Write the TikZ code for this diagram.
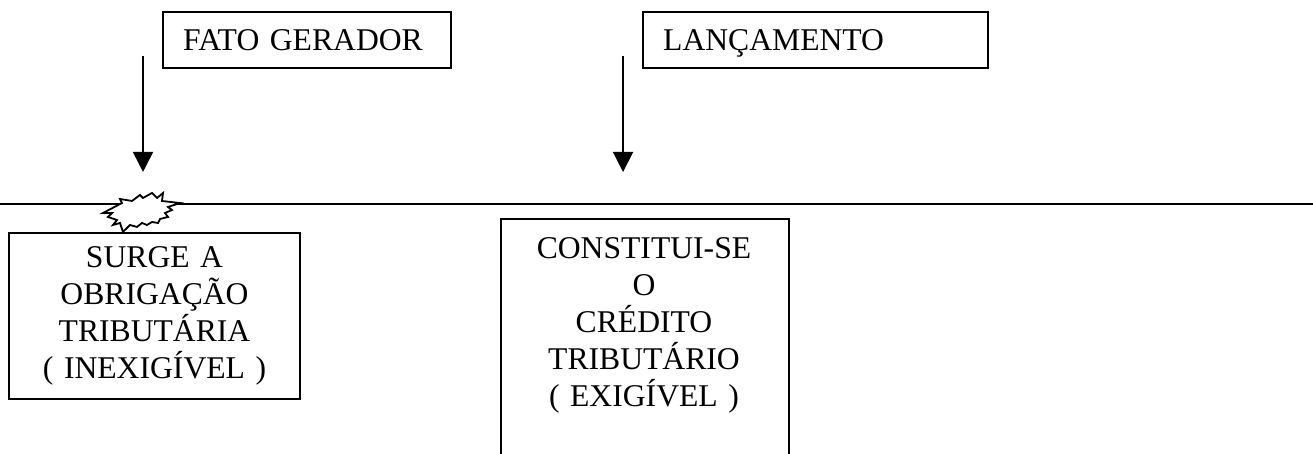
\documentclass[tikz,border=0pt]{standalone}
\usepackage{fontspec}
\setmainfont{Liberation Serif}
\usetikzlibrary{arrows.meta}
\begin{document}
\begin{tikzpicture}[
    linha/.style={line width=0.024cm},
    caixa/.style={draw, line width=0.024cm, inner ysep=0pt},
    seta/.style={line width=0.024cm, -{Triangle[width=0.267cm,length=0.267cm]}}]
                \useasboundingbox (0,0) rectangle (17.500000,6.051000);
                {\fontsize{12pt}{14pt}\selectfont

                % Drawing box FATO GERADOR
                \node (fato) [caixa, anchor=north west, minimum width=3.839000cm, minimum height=0.746000cm,
                    text width=3.299000cm, inner xsep=0.270000cm, text height=8pt, text depth=0pt, align=left]
                    at (2.159000,5.904000) {FATO GERADOR};

                % Drawing box LANCAMENTO
                \node (lancamento) [caixa, anchor=north west, minimum width=4.598000cm, minimum height=0.746000cm,
                    text width=4.058000cm, inner xsep=0.270000cm, text height=8pt, text depth=0pt, align=left]
                    at (8.557000,5.904000) {LANÇAMENTO};

                % Drawing arrows down to the time line
                \coordinate (fatoIni) at (1.906000,5.305000);
                \coordinate (fatoFim) at (1.906000,3.759000);
                \coordinate (lancIni) at (8.304000,5.305000);
                \coordinate (lancFim) at (8.304000,3.759000);
                \draw [seta] (fatoIni) -- (fatoFim);
                \draw [seta] (lancIni) -- (lancFim);

                % Drawing time line
                \coordinate (tempoW) at (0.000000,3.332000);
                \coordinate (tempoE) at (17.500000,3.332000);
                \draw [linha] (tempoW) -- (tempoE);

                % Marking the burst on the line
                \draw [linha, fill=white] (1.373000,3.212000) -- (1.626000,3.345000) -- (1.599000,3.399000)
                    -- (1.759000,3.372000) -- (1.866000,3.452000) -- (1.906000,3.412000) -- (2.026000,3.479000)
                    -- (2.093000,3.412000) -- (2.173000,3.479000) -- (2.159000,3.372000) -- (2.399000,3.345000)
                    -- (2.239000,3.292000) -- (2.292000,3.252000) -- (2.199000,3.212000) -- (2.239000,3.159000)
                    -- (2.133000,3.132000) -- (2.106000,3.079000) -- (2.026000,3.092000) -- (1.959000,3.052000)
                    -- (1.893000,3.079000) -- (1.826000,3.026000) -- (1.733000,3.052000) -- (1.639000,2.959000)
                    -- (1.599000,3.079000) -- (1.506000,3.052000) -- (1.559000,3.119000) -- (1.439000,3.159000)
                    -- (1.493000,3.212000) -- cycle;

                % Drawing box SURGE A OBRIGACAO
                \node (obrigacao) [caixa, anchor=north west, minimum width=3.852000cm, minimum height=2.213000cm,
                    text width=3.600000cm, align=center]
                    at (0.107000,2.959000) {SURGE A\\OBRIGAÇÃO\\TRIBUTÁRIA\\( INEXIGÍVEL )};

                % Drawing box CONSTITUI-SE O CREDITO
                \node (creditoBox) [caixa, anchor=north west, minimum width=3.839000cm, minimum height=3.600000cm]
                    at (6.664000,3.146000) {};
                \node (credito) [anchor=north, inner sep=0pt, text width=3.600000cm, align=center]
                    at (8.583000,2.892000) {CONSTITUI-SE\\O\\CRÉDITO\\TRIBUTÁRIO\\( EXIGÍVEL )};
                }
\end{tikzpicture}
\end{document}
